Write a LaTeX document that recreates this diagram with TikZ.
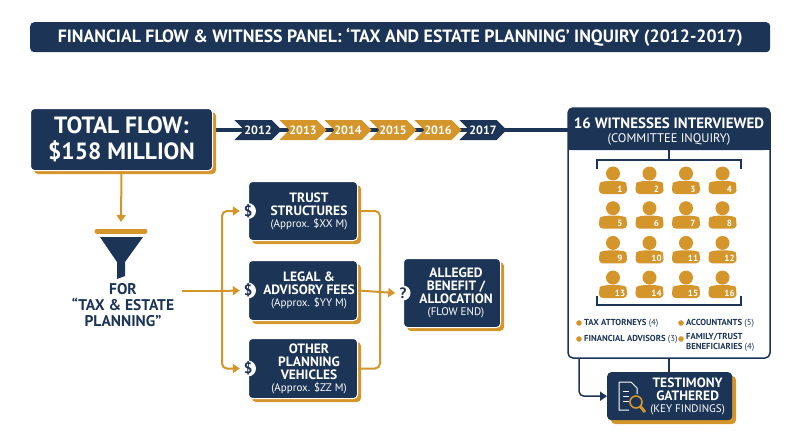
\documentclass[tikz,border=0pt]{standalone}
\usepackage{fontspec}
\setmainfont{PT Sans}
\usetikzlibrary{positioning,shapes.symbols,arrows.meta}
\definecolor{navy}{HTML}{1C3557}
\definecolor{gold}{HTML}{D4952B}
\tikzset{
	box/.style={fill=navy, text=white, rounded corners=4pt, align=center, font=\bfseries\fontsize{13.5}{13}\selectfont},
	shadowbox/.style={box, draw=white, line width=1pt},
	flow/.style={draw=gold, line width=2pt},
	flowarr/.style={flow, -{Triangle[length=7pt,width=9pt]}},
	year/.style={signal, signal to=east, signal from=west, minimum height=20pt, minimum width=46pt, inner sep=0pt, text=white, font=\bfseries\fontsize{12}{12}\selectfont},
	badge/.style={circle, fill=white, text=navy, inner sep=0pt, minimum size=15pt, font=\bfseries\fontsize{15}{15}\selectfont},
}
\newcommand{\subtext}{\fontsize{11}{12}\selectfont\mdseries}
\newcommand{\goldbox}[5]{% name, x, y, w, h
	\fill[gold, rounded corners=4pt] (#2+4,#3+4) rectangle ++(#4,#5);
	\node[shadowbox, minimum width=#4 pt, minimum height=#5 pt, anchor=north west] (#1) at (#2,#3) {};
}
\begin{document}
\begin{tikzpicture}[x=1pt,y=-1pt]
		\useasboundingbox (0,0) rectangle (800,447);
		% title
		\node[box, minimum width=740pt, minimum height=30pt, anchor=north west, font=\bfseries\fontsize{17.8}{18}\selectfont] (title) at (30,22) {FINANCIAL FLOW \& WITNESS PANEL: ‘TAX AND ESTATE PLANNING’ INQUIRY (2012-2017)};
		% witness panel
		\draw[navy, line width=1.5pt, fill=white, rounded corners=5pt] (568,108) rectangle (770,358);
		\fill[navy, rounded corners=5pt] (568,108) rectangle (770,150);
		\fill[navy] (568,140) rectangle (770,150);
		\node[text=white, font=\bfseries\fontsize{15}{15}\selectfont] (wit) at (669,123) {16 WITNESSES INTERVIEWED};
		\node[text=white, font=\fontsize{12.5}{12}\selectfont] (com) at (669,139) {(COMMITTEE INQUIRY)};
		% timeline
		\coordinate (t0) at (212,130);
		\coordinate (t1) at (568,130);
		\draw[navy, line width=4pt] (t0) -- (t1);
		\foreach \y/\c [count=\i] in {2012/navy,2013/gold,2014/gold,2015/gold,2016/gold,2017/navy}
		{
			\node[year, fill=\c] (y\y) at (213+45*\i,130) {\y};
		}
		% total flow
		\goldbox{total}{30}{108}{182}{62}
		\node[text=white, align=center, font=\bfseries\fontsize{23.5}{26}\selectfont] at (total) {TOTAL FLOW:\\\$158 MILLION};
		% funnel
		\coordinate (fun) at (121,222);
		\draw[flowarr] (total.south) -- (fun);
		\draw[gold, line width=5pt, line cap=round] (97,231) -- (145,231);
		\fill[navy] (100,237) -- (143,237) -- (125,262) -- (125,276) -- (117,279) -- (117,262) -- cycle;
		\node[text=navy, align=center, font=\bfseries\fontsize{15.5}{16}\selectfont] (for) at (123,305) {FOR\\“TAX \& ESTATE\\PLANNING”};
		% categories
		\goldbox{trust}{248}{181}{109}{59}
		\node[box, fill=none] at ([xshift=6pt]trust.center) {TRUST\\STRUCTURES\\[-1pt]{\subtext(Approx. \$XX M)}};
		\goldbox{legal}{248}{260}{109}{60}
		\node[box, fill=none] at ([xshift=6pt]legal.center) {LEGAL \&\\ADVISORY FEES\\[-1pt]{\subtext(Approx. \$YY M)}};
		\goldbox{other}{248}{338}{109}{60}
		\node[box, fill=none] at ([xshift=6pt]other.center) {OTHER\\PLANNING\\VEHICLES\\[-1pt]{\subtext(Approx. \$ZZ M)}};
		\foreach \n in {trust,legal,other}
		{
			\node[badge] (\n b) at (\n.west) {\$};
		}
		\goldbox{end}{403}{258}{97}{69}
		\node[box, fill=none] at ([xshift=4pt]end.center) {ALLEGED\\BENEFIT /\\ALLOCATION\\[-1pt]{\subtext(FLOW END)}};
		\node[badge] (endb) at (end.west) {?};
		% split and merge
		\coordinate (split) at (222,291);
		\coordinate (merge) at (380,291);
		\draw[flow] (for.east |- split) ++(4,0) -- (split);
		\draw[flowarr, rounded corners=5pt] (split) |- (trustb.west);
		\draw[flowarr] (split) -- (legalb.west);
		\draw[flowarr, rounded corners=5pt] (split) |- (otherb.west);
		\draw[flow, rounded corners=5pt] (trust.east) -| (merge);
		\draw[flow, rounded corners=5pt] (other.east) -| (merge);
		\draw[flowarr] (legal.east) -- (endb.west);
		% witnesses
		\draw[navy, line width=1.2pt] (669,150) -- (669,160);
		\draw[navy, line width=1.2pt] (597,169) -- (597,160) -- (741,160) -- (741,169);
		\draw[navy, line width=1.2pt] (597,296) -- (597,305) -- (741,305) -- (741,296);
		\foreach \r in {0,...,3}
		\foreach \c in {0,...,3}
		{
			\pgfmathtruncatemacro{\k}{4*\r+\c+1}
			\begin{scope}[shift={(613+36.5*\c,180+34.7*\r)}]
				\fill[gold] (0,-6.5) circle (7);
				\fill[gold, rounded corners=4pt] (-14,14) -- (-14,7) .. controls (-13,2) and (-7,1) .. (0,1) .. controls (7,1) and (13,2) .. (14,7) -- (14,14) -- cycle;
				\node[text=white, font=\bfseries\fontsize{9}{9}\selectfont] at (7,9) {\k};
			\end{scope}
		}
		% legend
		\foreach \x/\y/\t in {579/323/{TAX ATTORNEYS {\mdseries(4)}}, 579/339/{FINANCIAL ADVISORS {\mdseries(3)}}, 681/323/{ACCOUNTANTS {\mdseries(5)}}}
		{
			\fill[gold] (\x,\y) circle (2.8);
			\node[anchor=west, text=navy, font=\bfseries\fontsize{8.7}{9}\selectfont, inner sep=0pt] at (\x+5,\y) {\t};
		}
		\fill[gold] (681,339) circle (2.8);
		\node[anchor=north west, align=left, text=navy, font=\bfseries\fontsize{8.7}{9.5}\selectfont, inner sep=0pt] at (686,333.5) {FAMILY/TRUST\\BENEFICIARIES {\mdseries(4)}};
		% testimony
		\fill[gold, rounded corners=4pt] (611,376) rectangle ++(125,48);
		\node[box, minimum width=125pt, minimum height=48pt, anchor=north west] (test) at (607,372) {};
		\node[box, fill=none, anchor=east] at ([xshift=-4pt]test.east) {TESTIMONY\\GATHERED\\[-1pt]{\subtext(KEY FINDINGS)}};
		\begin{scope}[shift={(619,382)}, white, line width=1pt]
			\draw (0,0) -- (12,0) -- (18,6) -- (18,12) (0,0) -- (0,28) -- (10,28);
			\foreach \yy in {9,14,19} \draw (4,\yy) -- (10,\yy);
			\draw[gold, line width=1.6pt] (17,20) circle (6);
			\draw[gold, line width=3pt] (21,24) -- (26,30);
		\end{scope}
		\coordinate (ta) at (579,358);
		\coordinate (tb) at (669,358);
		\draw[navy, line width=1.5pt] (tb) -- (tb |- test.north);
		\draw[navy, line width=1.5pt, rounded corners=5pt, -{Triangle[length=7pt,width=9pt]}] (ta) |- (test.west);
	\end{tikzpicture}
\end{document}
